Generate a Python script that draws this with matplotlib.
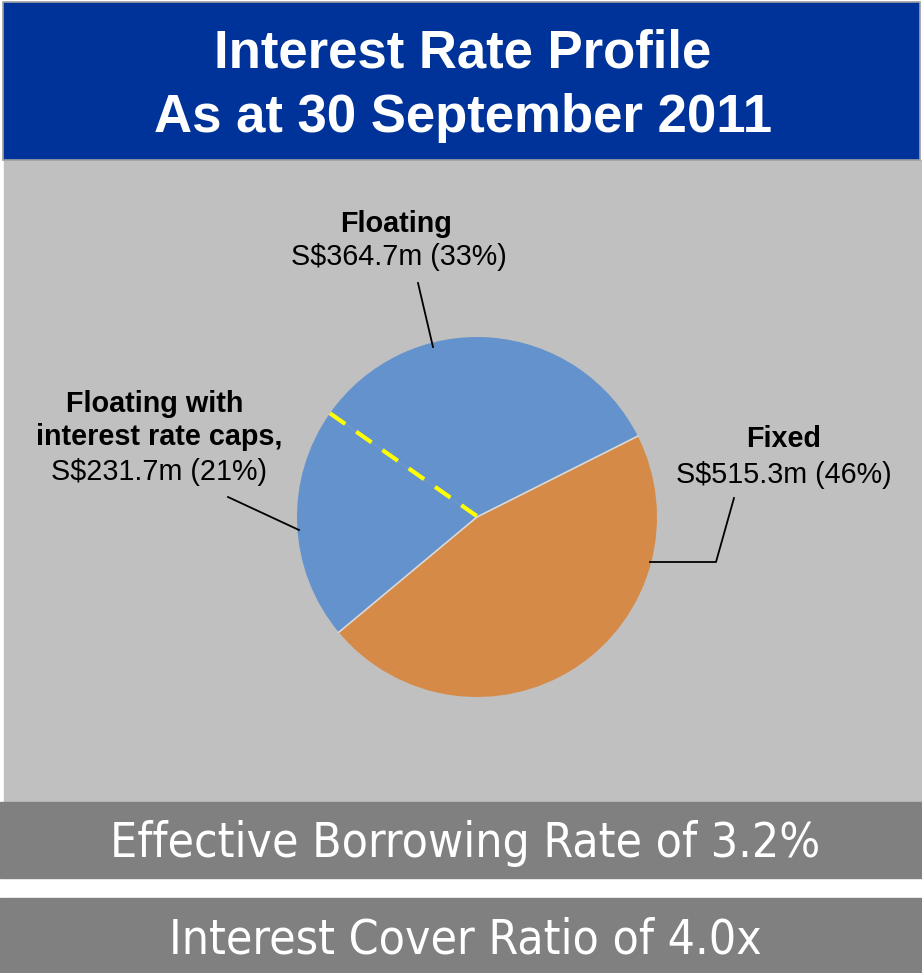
import matplotlib
matplotlib.use('Agg')
import matplotlib.pyplot as plt
from matplotlib.patches import Rectangle
import numpy as np

W, H = 922, 973

# ==== data ====
SEGMENTS = ['Floating', 'Floating with interest rate caps', 'Fixed']
AMOUNTS = [364.7, 231.7, 515.3]
PCTS = [33, 21, 46]
COLORS = ['#6392CC', '#6392CC', '#D58B47']

TITLE = ['Interest Rate Profile', 'As at 30 September 2011']
STATS = ['Effective Borrowing Rate of 3.2%', 'Interest Cover Ratio of 4.0x']


def Y(y):
    # image pixel row -> data y (axis goes up)
    return H - y


fig = plt.figure(figsize=(W / 100, H / 100), dpi=100)
ax = fig.add_axes([0, 0, 1, 1])

# background panels
ax.add_patch(Rectangle((0, 0), W, H, color='white', zorder=0))
ax.add_patch(Rectangle((4, Y(802)), W - 4, 802 - 160, color='#C0C0C0', zorder=0))
ax.add_patch(Rectangle((3, Y(160)), W - 5, 158, facecolor='#003399',
                       edgecolor='#A0A0A0', linewidth=1.2, zorder=1))
ax.add_patch(Rectangle((0, Y(878)), W, 76, color='#808080', zorder=1))
ax.add_patch(Rectangle((0, 0), W, 75, color='#808080', zorder=1))

# title
tt = dict(ha='center', va='baseline', color='white', fontsize=38,
          fontweight='bold', family='Liberation Sans')
ax.text(463, Y(68), TITLE[0], **tt)
ax.text(463, Y(132), TITLE[1], **tt)

# pie
cx, cy, r = 477, Y(517), 180
wedges, _ = ax.pie(AMOUNTS, colors=COLORS, startangle=26.7, counterclock=True,
                   center=(cx, cy), radius=r, frame=True,
                   wedgeprops=dict(linewidth=0))
ax.set_xlim(0, W)
ax.set_ylim(0, H)
ax.set_aspect('equal')
ax.axis('off')

# light boundary between blue and orange
for ang in [wedges[2].theta1, wedges[2].theta2]:
    a = np.deg2rad(ang)
    ax.plot([cx, cx + r * np.cos(a)], [cy, cy + r * np.sin(a)],
            color='#D9D9D9', linewidth=1.2, zorder=3)

# yellow dashed split between floating and caps
a = np.deg2rad(wedges[0].theta2)
ax.plot([cx + r * np.cos(a), cx + 4], [cy + r * np.sin(a), cy - 2],
        color='#FFFF00', linewidth=3, dashes=(4.5, 3.2), zorder=4)

# leader lines
ax.plot([418, 433], [Y(283), Y(347)], color='black', linewidth=1.3, zorder=4)
ax.plot([228, 299], [Y(497), Y(530)], color='black', linewidth=1.3, zorder=4)
ax.plot([650, 716, 734], [Y(562), Y(562), Y(498)], color='black', linewidth=1.3, zorder=4)

lab = dict(ha='center', va='baseline', color='black', fontsize=20.7, family='Liberation Sans')

ax.text(396, Y(232), 'Floating', fontweight='bold', **lab)
ax.text(399, Y(265), f'S${AMOUNTS[0]}m ({PCTS[0]}%)', **lab)

ax.text(155, Y(412), 'Floating with', fontweight='bold', **lab)
ax.text(159, Y(445), 'interest rate caps,', fontweight='bold', **lab)
ax.text(159, Y(480), f'S${AMOUNTS[1]}m ({PCTS[1]}%)', **lab)

ax.text(784, Y(447), 'Fixed', fontweight='bold', **lab)
ax.text(784, Y(483), f'S${AMOUNTS[2]}m ({PCTS[2]}%)', **lab)

# bottom stats
st = dict(ha='center', va='baseline', color='white', fontsize=34.5,
          family='DejaVu Sans', fontstretch='condensed')
ax.text(465, Y(857), STATS[0], **st)
ax.text(465, Y(953), STATS[1], **st)

plt.savefig('out.png', dpi=100)
